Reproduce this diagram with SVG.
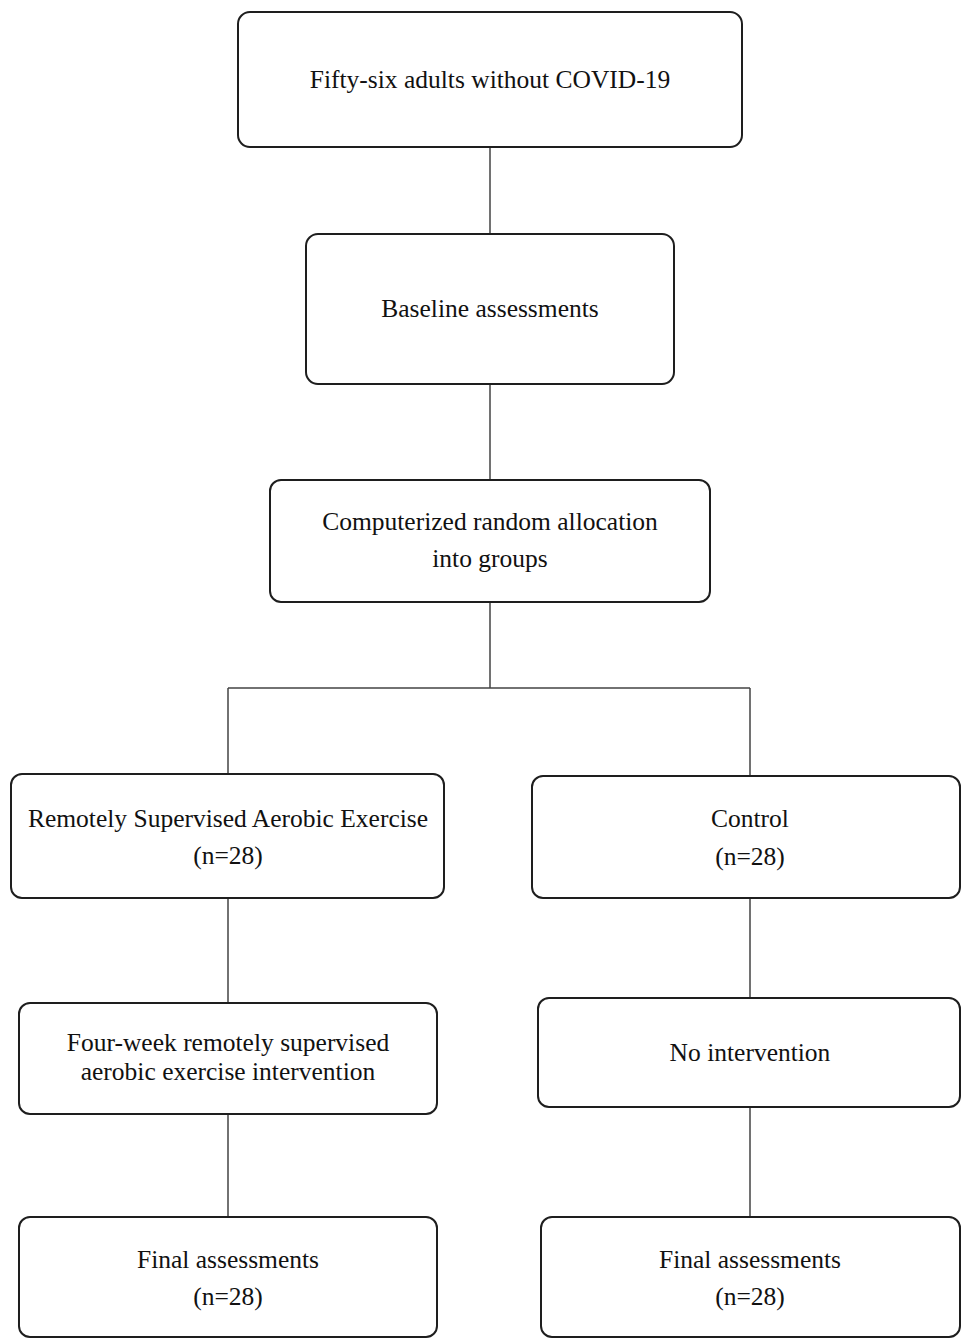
<svg xmlns="http://www.w3.org/2000/svg" width="961" height="1338" viewBox="0 0 961 1338">
<style>
.box{fill:#fff;stroke:#1e1e1e;stroke-width:2}
.t{font-family:"Liberation Serif","Times New Roman",serif;font-size:25.5px;fill:#111;text-anchor:middle}
.c{stroke:#444;stroke-width:1.5;fill:none}
</style>
<rect width="961" height="1338" fill="#fff"/>
<g id="connectors">
<path class="c" d="M490 147V234M490 384V480M490 602V688M228 688H750M228 688V774M750 688V776M228 898V1003M228 1114V1217M750 898V998M750 1107V1217"/>
</g>
<g id="n1"><rect class="box" x="238" y="12" width="504" height="135" rx="12"/><text class="t" x="490" y="88">Fifty-six adults without COVID-19</text></g>
<g id="n2"><rect class="box" x="306" y="234" width="368" height="150" rx="12"/><text class="t" x="490" y="317">Baseline assessments</text></g>
<g id="n3"><rect class="box" x="270" y="480" width="440" height="122" rx="11"/><text class="t" x="490" y="530">Computerized random allocation</text><text class="t" x="490" y="567">into groups</text></g>
<g id="n4"><rect class="box" x="11" y="774" width="433" height="124" rx="11"/><text class="t" x="228" y="827">Remotely Supervised Aerobic Exercise</text><text class="t" x="228" y="864">(n=28)</text></g>
<g id="n5"><rect class="box" x="532" y="776" width="428" height="122" rx="11"/><text class="t" x="750" y="827">Control</text><text class="t" x="750" y="865">(n=28)</text></g>
<g id="n6"><rect class="box" x="19" y="1003" width="418" height="111" rx="11"/><text class="t" x="228" y="1051">Four-week remotely supervised</text><text class="t" x="228" y="1080">aerobic exercise intervention</text></g>
<g id="n7"><rect class="box" x="538" y="998" width="422" height="109" rx="11"/><text class="t" x="750" y="1061">No intervention</text></g>
<g id="n8"><rect class="box" x="19" y="1217" width="418" height="120" rx="11"/><text class="t" x="228" y="1268">Final assessments</text><text class="t" x="228" y="1305">(n=28)</text></g>
<g id="n9"><rect class="box" x="541" y="1217" width="419" height="120" rx="11"/><text class="t" x="750" y="1268">Final assessments</text><text class="t" x="750" y="1305">(n=28)</text></g>
</svg>
